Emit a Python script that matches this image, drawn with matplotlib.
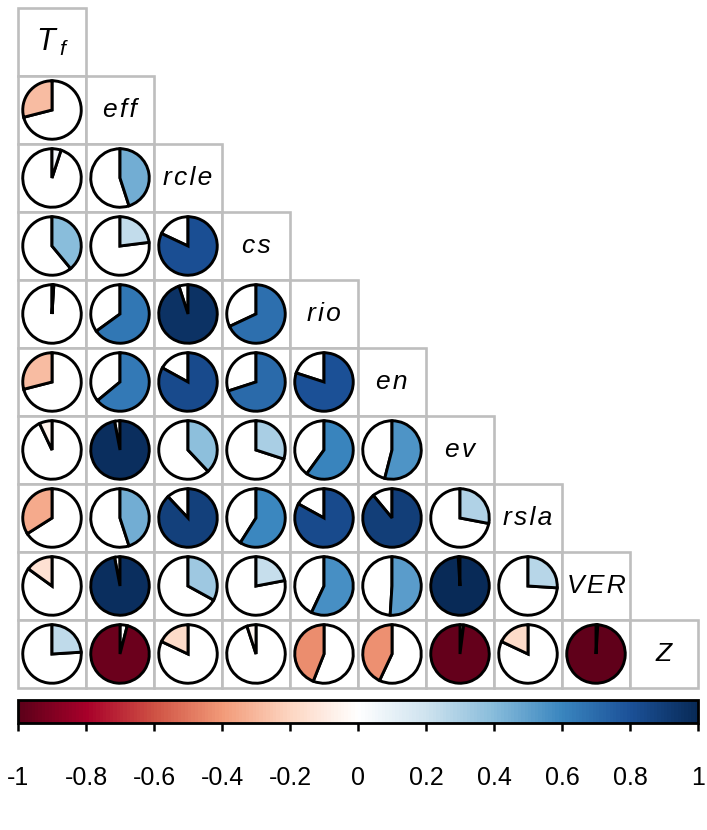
import numpy as np
import matplotlib
matplotlib.use('Agg')
import matplotlib.pyplot as plt
from matplotlib.patches import Wedge, Rectangle
from matplotlib.colors import LinearSegmentedColormap, Normalize
from matplotlib.colorbar import ColorbarBase

plt.rcParams['font.family'] = ['Liberation Sans', 'DejaVu Sans']
plt.rcParams['mathtext.fontset'] = 'custom'
plt.rcParams['mathtext.it'] = 'Liberation Sans:italic'
plt.rcParams['mathtext.rm'] = 'Liberation Sans'

# variable names (diagonal)
names = ['T_f', 'eff', 'rcle', 'cs', 'rio', 'en', 'ev', 'rsla', 'VER', 'Z']

# lower triangle of the correlation matrix, row by row
corr_rows = [
    [],
    [-0.29],
    [0.05, 0.45],
    [0.39, 0.23, 0.82],
    [0.01, 0.65, 0.95, 0.68],
    [-0.29, 0.64, 0.83, 0.70, 0.80],
    [-0.07, 0.97, 0.38, 0.30, 0.60, 0.54],
    [-0.34, 0.45, 0.88, 0.59, 0.83, 0.89, 0.28],
    [-0.15, 0.97, 0.33, 0.22, 0.57, 0.51, 0.99, 0.26],
    [0.24, -0.96, -0.18, -0.05, -0.44, -0.43, -0.98, -0.18, -0.99],
]

cbar_ticks = [-1, -0.8, -0.6, -0.4, -0.2, 0, 0.2, 0.4, 0.6, 0.8, 1]
cbar_labels = ['-1', '-0.8', '-0.6', '-0.4', '-0.2', '0', '0.2', '0.4', '0.6', '0.8', '1']

# red-white-blue palette as it shows in the picture
pal = ["#5c0019", "#a8002a", "#cf5244", "#f29a78", "#fdd6c2", "#FFFFFF",
       "#cfe3ef", "#88bcdb", "#3a86bf", "#1c5299", "#082a57"]
cmap = LinearSegmentedColormap.from_list('corr', pal, N=200)
norm = Normalize(-1, 1)

W, H = 707, 830
fig = plt.figure(figsize=(W / 100, H / 100), dpi=100)
ax = fig.add_axes([18 / W, (H - 688) / H, 680 / W, 680 / H])
n = len(names)
ax.set_xlim(0, n)
ax.set_ylim(0, n)
ax.axis('off')

grid_col = '#BEBEBE'
rad = 0.43
hs = '\u200a'

for i in range(n):
    yc = n - i - 0.5
    for j in range(i + 1):
        xc = j + 0.5
        ax.add_patch(Rectangle((j, n - i - 1), 1, 1, facecolor='white',
                               edgecolor=grid_col, lw=1.9, clip_on=False, zorder=1))
        if j == i:
            if names[i] == 'T_f':
                ax.text(xc, yc, r'$T\,_f$', ha='center', va='center', fontsize=22, zorder=3)
            else:
                ax.text(xc, yc, hs.join(names[i]), ha='center', va='center', fontsize=19,
                        style='italic', zorder=3)
            continue
        r = corr_rows[i][j]
        ang = 360 * abs(r)
        if r >= 0:
            t1, t2 = 90 - ang, 90
        else:
            t1, t2 = 90, 90 + ang
        # empty part, then the filled part
        ax.add_patch(Wedge((xc, yc), rad, t2, t1 + 360, facecolor='white',
                           edgecolor='black', lw=2.1, zorder=2))
        ax.add_patch(Wedge((xc, yc), rad, t1, t2, facecolor=cmap(norm(r)),
                           edgecolor='black', lw=2.1, zorder=2))

# colour legend
cax = fig.add_axes([18 / W, (H - 723) / H, 680 / W, 23 / H])
cb = ColorbarBase(cax, cmap=cmap, norm=norm, orientation='horizontal', ticks=cbar_ticks)
cb.set_ticklabels(cbar_labels)
cb.outline.set_linewidth(2)
cb.outline.set_edgecolor('black')
cax.tick_params(axis='x', length=6, width=1.8, pad=25, labelsize=18, direction='out')

fig.savefig('out.png', dpi=100)
